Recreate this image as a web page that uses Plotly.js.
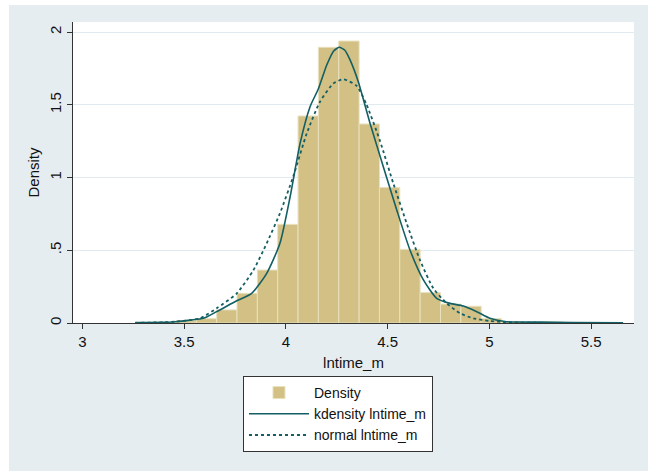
<!DOCTYPE html>
<html>
<head>
<meta charset="utf-8">
<script src="https://cdn.plot.ly/plotly-3.0.1.min.js"></script>
<style>
  html, body { margin: 0; padding: 0; background: #ffffff; }
  #chart { position: absolute; left: 9px; top: 5px; width: 639px; height: 466px; }
</style>
</head>
<body>
<div id="chart"></div>
<script>
// Histogram bins (centers, width 0.1) and density heights
const binCenters = [3.31, 3.41, 3.51, 3.61, 3.71, 3.81, 3.91, 4.01, 4.11, 4.21, 4.31, 4.41,
                    4.51, 4.61, 4.71, 4.81, 4.91, 5.01, 5.11, 5.21, 5.31, 5.41, 5.51, 5.61];
const binDensity = [0.004, 0.004, 0.015, 0.03, 0.09, 0.204, 0.364, 0.678, 1.423, 1.895, 1.938, 1.368,
                    0.932, 0.506, 0.209, 0.13, 0.115, 0.03, 0.008, 0.004, 0.006, 0.002, 0.002, 0.002];
const binWidth = 0.1;

// Kernel density estimate
const kdX = [3.26, 3.40, 3.456, 3.53, 3.595, 3.66, 3.759, 3.832, 3.906, 3.971, 4.021, 4.070, 4.119,
             4.160, 4.201, 4.235, 4.262, 4.290, 4.315, 4.356, 4.414, 4.479, 4.545, 4.610, 4.676,
             4.741, 4.807, 4.872, 4.938, 5.003, 5.085, 5.249, 5.41, 5.657];
const kdY = [0.003, 0.004, 0.009, 0.02, 0.032, 0.078, 0.153, 0.204, 0.341, 0.548, 0.868, 1.235, 1.487,
             1.610, 1.773, 1.870, 1.895, 1.875, 1.810, 1.658, 1.372, 1.074, 0.777, 0.502, 0.296,
             0.170, 0.135, 0.117, 0.078, 0.032, 0.009, 0.006, 0.003, 0.002];

// Normal density overlay
const nmX = [3.26, 3.40, 3.456, 3.578, 3.66, 3.759, 3.841, 3.906, 3.971, 4.037, 4.103, 4.168, 4.234,
             4.283, 4.348, 4.397, 4.463, 4.528, 4.594, 4.659, 4.725, 4.791, 4.856, 4.921, 5.003,
             5.085, 5.20, 5.40, 5.657];
const nmY = [0.001, 0.005, 0.009, 0.032, 0.101, 0.204, 0.364, 0.548, 0.754, 1.010, 1.304, 1.521, 1.647,
             1.675, 1.630, 1.500, 1.250, 0.960, 0.685, 0.433, 0.238, 0.135, 0.067, 0.032, 0.014,
             0.005, 0.002, 0.001, 0.0005];

const xTicks = [3, 3.5, 4, 4.5, 5, 5.5];
const xTickText = ['3', '3.5', '4', '4.5', '5', '5.5'];
const yTicks = [0, 0.5, 1, 1.5, 2];
const yTickText = ['0', '.5', '1', '1.5', '2'];

const lineColor = '#135f63';
const traces = [
  {
    type: 'bar', name: 'Density', x: binCenters, y: binDensity,
    width: binCenters.map(() => binWidth),
    marker: { color: '#d2c084', line: { color: '#e9e0bd', width: 1 } }
  },
  {
    type: 'scatter', mode: 'lines', name: 'kdensity lntime_m', x: kdX, y: kdY,
    line: { color: lineColor, width: 1.6, shape: 'spline', smoothing: 0.6 }
  },
  {
    type: 'scatter', mode: 'lines', name: 'normal lntime_m', x: nmX, y: nmY,
    line: { color: lineColor, width: 1.8, dash: 'dot', shape: 'spline', smoothing: 0.6 }
  }
];

const layout = {
  width: 639, height: 466,
  paper_bgcolor: '#e6edf1',
  plot_bgcolor: '#ffffff',
  margin: { l: 64, r: 14, t: 17, b: 148 },
  font: { family: 'Liberation Sans, Arial, sans-serif', size: 15, color: '#111111' },
  bargap: 0,
  showlegend: true,
  legend: {
    x: 0.303, y: -0.176, xanchor: 'left', yanchor: 'top',
    bgcolor: '#ffffff', bordercolor: '#333333', borderwidth: 1,
    font: { size: 14 }, tracegroupgap: 0, itemwidth: 60
  },
  xaxis: {
    range: [2.954, 5.711], tickvals: xTicks, ticktext: xTickText,
    showgrid: false, zeroline: false, showline: true, linecolor: '#333333', linewidth: 1,
    ticks: 'outside', ticklen: 5, tickcolor: '#333333',
    title: { text: 'lntime_m', standoff: 8, font: { size: 15 } }
  },
  yaxis: {
    range: [0, 2.069], tickvals: yTicks, ticktext: yTickText, tickangle: -90,
    showgrid: true, gridcolor: '#e2eaf1', gridwidth: 1, zeroline: false,
    showline: true, linecolor: '#333333', linewidth: 1,
    ticks: 'outside', ticklen: 5, tickcolor: '#333333',
    title: { text: 'Density', standoff: 3, font: { size: 15 } }
  }
};

Plotly.newPlot('chart', traces, layout, { displayModeBar: false, staticPlot: true });
</script>
</body>
</html>
